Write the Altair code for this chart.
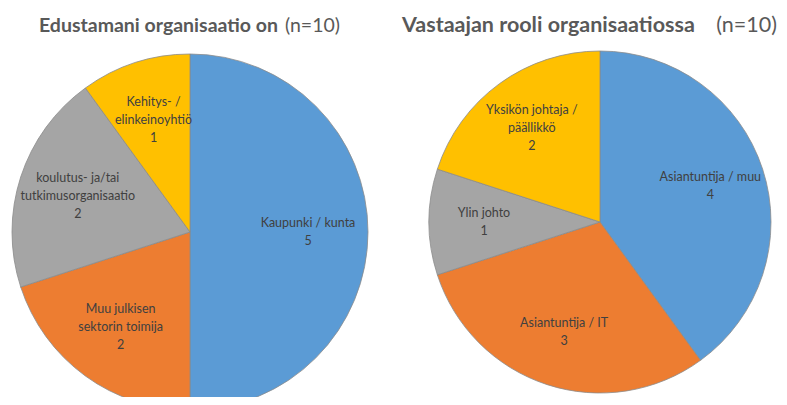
import altair as alt
import pandas as pd

# Data
left_labels = ["Kaupunki / kunta", "Muu julkisen\nsektorin toimija",
               "koulutus- ja/tai\ntutkimusorganisaatio", "Kehitys- /\nelinkeinoyhtiö"]
left_values = [5, 2, 2, 1]
right_labels = ["Asiantuntija / muu", "Asiantuntija / IT", "Ylin johto",
                "Yksikön johtaja /\npäällikkö"]
right_values = [4, 3, 1, 2]
colors = ["#5B9BD5", "#ED7D31", "#A5A5A5", "#FFC000"]

left_title = "Edustamani organisaatio on"
right_title = "Vastaajan rooli organisaatiossa"
n_text = "(n=10)"

FONT = "Lato"
LH = 18


def make_df(labels, values):
    texts = [f"{l}\n{v}" for l, v in zip(labels, values)]
    return pd.DataFrame({
        "idx": list(range(len(labels))),
        "label": labels,
        "value": values,
        "text": texts,
        "nlines": [t.count("\n") + 1 for t in texts],
    })


def pie(df, cx, cy, r, lr):
    base = alt.Chart(df).encode(
        theta=alt.Theta("value:Q", stack=True),
        order=alt.Order("idx:Q"),
        detail="idx:N",
    )
    arc = base.mark_arc(outerRadius=r, stroke="#8c8c8c", strokeWidth=0.8).encode(
        color=alt.Color("idx:N", scale=alt.Scale(domain=[0, 1, 2, 3], range=colors), legend=None),
        x=alt.value(cx), y=alt.value(cy),
    )
    layers = [arc]
    for n in (2, 3):
        t = base.transform_calculate(
            shown=f"datum.nlines == {n} ? datum.text : ''"
        ).mark_text(radius=lr, font=FONT, fontSize=12.5, lineBreak="\n", lineHeight=LH,
                    color="#404040", align="center", baseline="middle",
                    dy=-(n - 1) * LH / 2).encode(
            text="shown:N", x=alt.value(cx), y=alt.value(cy),
        )
        layers.append(t)
    return alt.layer(*layers)


def title_text(s, x, y, bold, align, size):
    return alt.Chart(pd.DataFrame({"t": [s]})).mark_text(
        font=FONT, fontSize=size, fontWeight="bold" if bold else "normal",
        color="#595959", align=align, baseline="middle",
    ).encode(text="t:N", x=alt.value(x), y=alt.value(y))


left = pie(make_df(left_labels, left_values), 182, 224, 178, 118)
right = pie(make_df(right_labels, right_values), 592, 214, 171, 116)

chart = alt.layer(
    left, right,
    title_text(left_title, 31, 18, True, "left", 19.5),
    title_text(n_text, 332, 18, False, "right", 19.5),
    title_text(right_title, 394, 18, True, "left", 21.5),
    title_text(n_text, 769, 18, False, "right", 21.5),
).properties(
    width=771, height=389, padding=0, autosize="none", background="white"
).configure_view(strokeWidth=0)

chart.save("out.html", embed_options={"renderer": "svg", "actions": False})
